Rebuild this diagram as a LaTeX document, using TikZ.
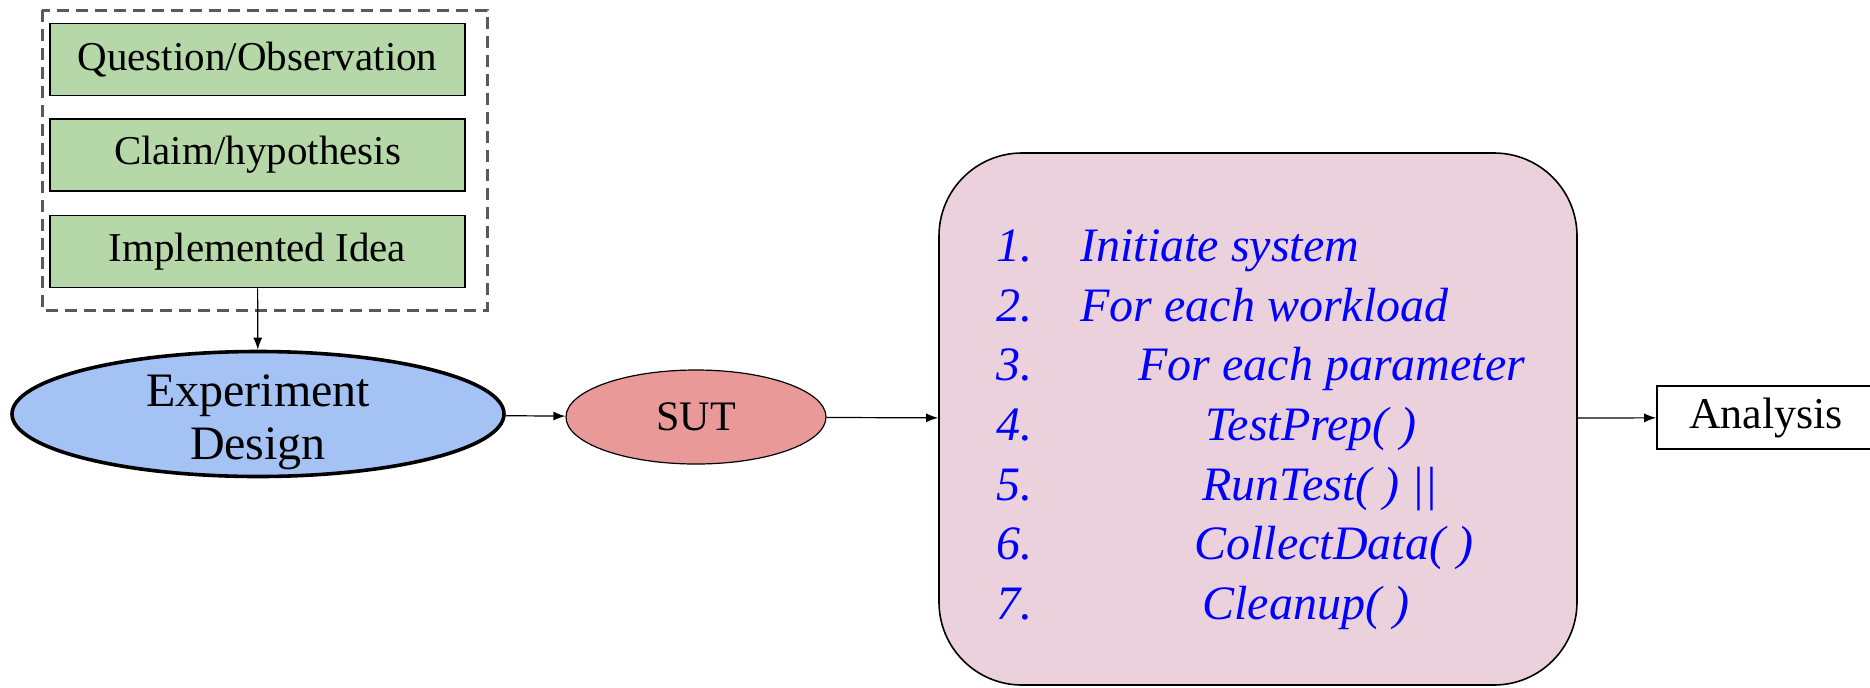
\documentclass[tikz,border=0pt]{standalone}
\usepackage{fontspec}
\setmainfont{Liberation Serif}
\usetikzlibrary{arrows.meta,positioning,shapes.geometric}

\begin{document}
\begin{tikzpicture}[
  x=0.5pt, y=-0.5pt,
  gbox/.style={draw,line width=0.9pt,fill={rgb,255:red,182;green,215;blue,168},
    minimum width=207.5pt,minimum height=36pt,inner sep=0pt,font=\fontsize{20.5}{24}\selectfont},
  dashbox/.style={draw=black!65,line width=1.5pt,dash pattern=on 6pt off 3.5pt},
  blob/.style={draw,ellipse,inner sep=0pt},
  algobox/.style={draw,line width=0.8pt,rounded corners=41.5pt,fill={rgb,255:red,234;green,209;blue,220},
    minimum width=319pt,minimum height=266pt},
  stepnum/.style={anchor=base west,inner sep=0pt,text=blue,font=\fontsize{24}{28}\selectfont\itshape},
  steptxt/.style={anchor=base west,inner sep=0pt,text=blue,font=\fontsize{24}{28}\selectfont\itshape},
  arr/.style={-{Latex[length=6pt,width=4.5pt]},line width=0.6pt},
]
  \useasboundingbox (0,0) rectangle (1870,687);

  % idea group
  \draw[dashbox] (42,10) rectangle (487,310);
  \node[gbox] (qobs)  at (257.5,59.5)  {Question/Observation};
  \node[gbox] (claim) at (257.5,155)   {Claim/hypothesis};
  \node[gbox] (idea)  at (257.5,251.5) {Implemented Idea};

  % design and system under test
  \node[blob,line width=1.8pt,fill={rgb,255:red,164;green,194;blue,244},
    minimum width=246pt,minimum height=62.5pt,
    label={[align=center,yshift=-4pt,font=\fontsize{24}{26.5}\selectfont]center:Experiment\\Design}] (design) at (258,414) {};
  \node[blob,line width=0.6pt,fill={rgb,255:red,234;green,153;blue,153},
    minimum width=130pt,minimum height=47pt,font=\fontsize{21}{24}\selectfont] (sut) at (696,417) {SUT};

  % experiment loop
  \node[algobox] (algo) at (1258,419) {};
  \node[stepnum] (n1) at (996,261) {1.};
  \node[stepnum] (n2) at (996,321) {2.};
  \node[stepnum] (n3) at (996,380) {3.};
  \node[stepnum] (n4) at (996,440) {4.};
  \node[stepnum] (n5) at (996,500) {5.};
  \node[stepnum] (n6) at (996,559) {6.};
  \node[stepnum] (n7) at (996,619) {7.};
  \node[steptxt] (s1) at (1080,261) {Initiate system};
  \node[steptxt] (s2) at (1080,321) {For each workload};
  \node[steptxt] (s3) at (1138,380) {For each parameter};
  \node[steptxt] (s4) at (1205,440) {TestPrep( )};
  \node[steptxt] (s5) at (1202,500) {RunTest( ) ||};
  \node[steptxt] (s6) at (1194,559) {CollectData( )};
  \node[steptxt] (s7) at (1202,619) {Cleanup( )};

  \node[draw,line width=0.8pt,minimum width=109pt,minimum height=31.5pt,inner sep=0pt,
    font=\fontsize{22}{24}\selectfont] (analysis) at (1766,417.5) {Analysis\hspace{12pt}};

  % flow
  \draw[arr] (idea) -- (design);
  \draw[arr] (design) -- (sut);
  \draw[arr] (sut) -- (algo);
  \draw[arr] (algo) -- (analysis);
\end{tikzpicture}
\end{document}
